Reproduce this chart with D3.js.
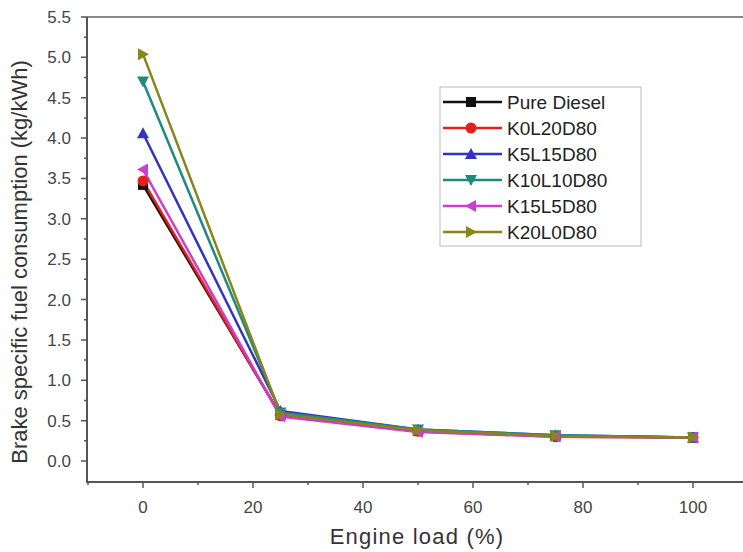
<!DOCTYPE html>
<html>
<head>
<meta charset="utf-8">
<script src="https://cdn.jsdelivr.net/npm/d3@7"></script>
<style>
  body { margin: 0; background: #fff; }
</style>
</head>
<body>
<div id="vis"></div>
<script>
/* data */
let loads = [0, 25, 50, 75, 100];
let seriesNames = ["Pure Diesel", "K0L20D80", "K5L15D80", "K10L10D80", "K15L5D80", "K20L0D80"];
let pureDiesel = [3.42, 0.57, 0.37, 0.31, 0.29];
let k0l20d80   = [3.47, 0.56, 0.37, 0.30, 0.29];
let k5l15d80   = [4.06, 0.62, 0.39, 0.32, 0.29];
let k10l10d80  = [4.70, 0.60, 0.39, 0.32, 0.29];
let k15l5d80   = [3.61, 0.55, 0.36, 0.30, 0.29];
let k20l0d80   = [5.04, 0.58, 0.38, 0.31, 0.29];
let xTicks = [0, 20, 40, 60, 80, 100];
let yTicks = [0, 0.5, 1, 1.5, 2, 2.5, 3, 3.5, 4, 4.5, 5, 5.5];

/* display */
let width = 743, height = 552;
let colors = ["#111", "#e3201e", "#3333c2", "#1e8a82", "#cc3fcc", "#86861a"];
let shapes = ["square", "circle", "up", "down", "left", "right"];
let allValues = [pureDiesel, k0l20d80, k5l15d80, k10l10d80, k15l5d80, k20l0d80];

/* scales */
let x = d3.scaleLinear().domain([0, 100]).range([143, 693]);
let y = d3.scaleLinear().domain([0, 5.5]).range([461, 17]);
let plotLeft = 87, plotBottom = 482, plotTop = 17;

let svg = d3.select("#vis").append("svg")
  .attr("width", width).attr("height", height)
  .style("font-family", "Liberation Sans, Arial, sans-serif");

/* markers */
function marker (sel, shape, color, s) {
  let h = s / 2;
  if (shape === "square") {
    sel.append("rect").attr("x", -h).attr("y", -h).attr("width", s).attr("height", s).attr("fill", color);
  } else if (shape === "circle") {
    sel.append("circle").attr("r", h + 0.5).attr("fill", color);
  } else {
    let pts = {
      up: [[0, -h - 1], [h + 1, h], [-h - 1, h]],
      down: [[0, h + 1], [h + 1, -h], [-h - 1, -h]],
      left: [[-h - 1, 0], [h, -h - 1], [h, h + 1]],
      right: [[h + 1, 0], [-h, -h - 1], [-h, h + 1]],
    }[shape];
    sel.append("polygon").attr("points", pts.map(p => p.join(",")).join(" ")).attr("fill", color);
  }
}

/* frame: top line and bottom axis run off the right edge */
let axisColor = "#555";
svg.append("line").attr("x1", plotLeft).attr("x2", width).attr("y1", plotTop).attr("y2", plotTop)
  .attr("stroke", "#888").attr("stroke-width", 2);
svg.append("line").attr("x1", plotLeft).attr("x2", plotLeft).attr("y1", plotTop).attr("y2", plotBottom + 1)
  .attr("stroke", axisColor).attr("stroke-width", 2);
svg.append("line").attr("x1", plotLeft - 1).attr("x2", width).attr("y1", plotBottom).attr("y2", plotBottom)
  .attr("stroke", axisColor).attr("stroke-width", 2);

/* ticks */
let ctx = d3.path();
yTicks.forEach(v => { ctx.moveTo(plotLeft, y(v)); ctx.lineTo(plotLeft - 6, y(v)); });
d3.range(0.25, 5.5, 0.5).forEach(v => { ctx.moveTo(plotLeft, y(v)); ctx.lineTo(plotLeft - 3, y(v)); });
xTicks.forEach(v => { ctx.moveTo(x(v), plotBottom); ctx.lineTo(x(v), plotBottom + 6); });
[-10, 10, 30, 50, 70, 90, 110].forEach(v => {
  if (x(v) > plotLeft && x(v) < width) { ctx.moveTo(x(v), plotBottom); ctx.lineTo(x(v), plotBottom + 3); }
});
svg.append("path").attr("d", ctx.toString()).attr("stroke", axisColor).attr("stroke-width", 1.5).attr("fill", "none");

svg.append("g").selectAll("text").data(yTicks).join("text")
  .attr("x", plotLeft - 16).attr("y", d => y(d) + 6)
  .attr("text-anchor", "end").attr("font-size", 17).attr("fill", "#444")
  .text(d => d.toFixed(1));
svg.append("g").selectAll("text").data(xTicks).join("text")
  .attr("x", d => x(d)).attr("y", plotBottom + 31)
  .attr("text-anchor", "middle").attr("font-size", 17).attr("fill", "#444")
  .text(d => d);

/* axis titles */
svg.append("text").attr("x", 417).attr("y", 544).attr("text-anchor", "middle")
  .attr("font-size", 22).attr("letter-spacing", 1.2).attr("fill", "#333").text("Engine load (%)");
svg.append("text").attr("transform", "translate(27,262) rotate(-90)").attr("text-anchor", "middle")
  .attr("font-size", 22).attr("fill", "#333").text("Brake specific fuel consumption (kg/kWh)");

/* lines and markers */
let line = d3.line().x((d, i) => x(loads[i])).y(d => y(d));
allValues.forEach((vals, k) => {
  svg.append("path").attr("d", line(vals)).attr("fill", "none")
    .attr("stroke", colors[k]).attr("stroke-width", 2.5);
});
allValues.forEach((vals, k) => {
  vals.forEach((v, i) => {
    let g = svg.append("g").attr("transform", "translate(" + x(loads[i]) + "," + y(v) + ")");
    marker(g, shapes[k], colors[k], 10);
  });
});

/* legend */
let lg = svg.append("g");
lg.append("rect").attr("x", 440).attr("y", 87).attr("width", 201).attr("height", 159)
  .attr("fill", "#fff").attr("stroke", "#bbb").attr("stroke-width", 1);
seriesNames.forEach((name, k) => {
  let ry = 102 + k * 26;
  lg.append("line").attr("x1", 443).attr("x2", 502).attr("y1", ry).attr("y2", ry)
    .attr("stroke", colors[k]).attr("stroke-width", 2.5);
  marker(lg.append("g").attr("transform", "translate(471," + ry + ")"), shapes[k], colors[k], 10);
  lg.append("text").attr("x", 507).attr("y", ry + 7).attr("font-size", 19).attr("fill", "#222")
    .text(name);
});
</script>
</body>
</html>
